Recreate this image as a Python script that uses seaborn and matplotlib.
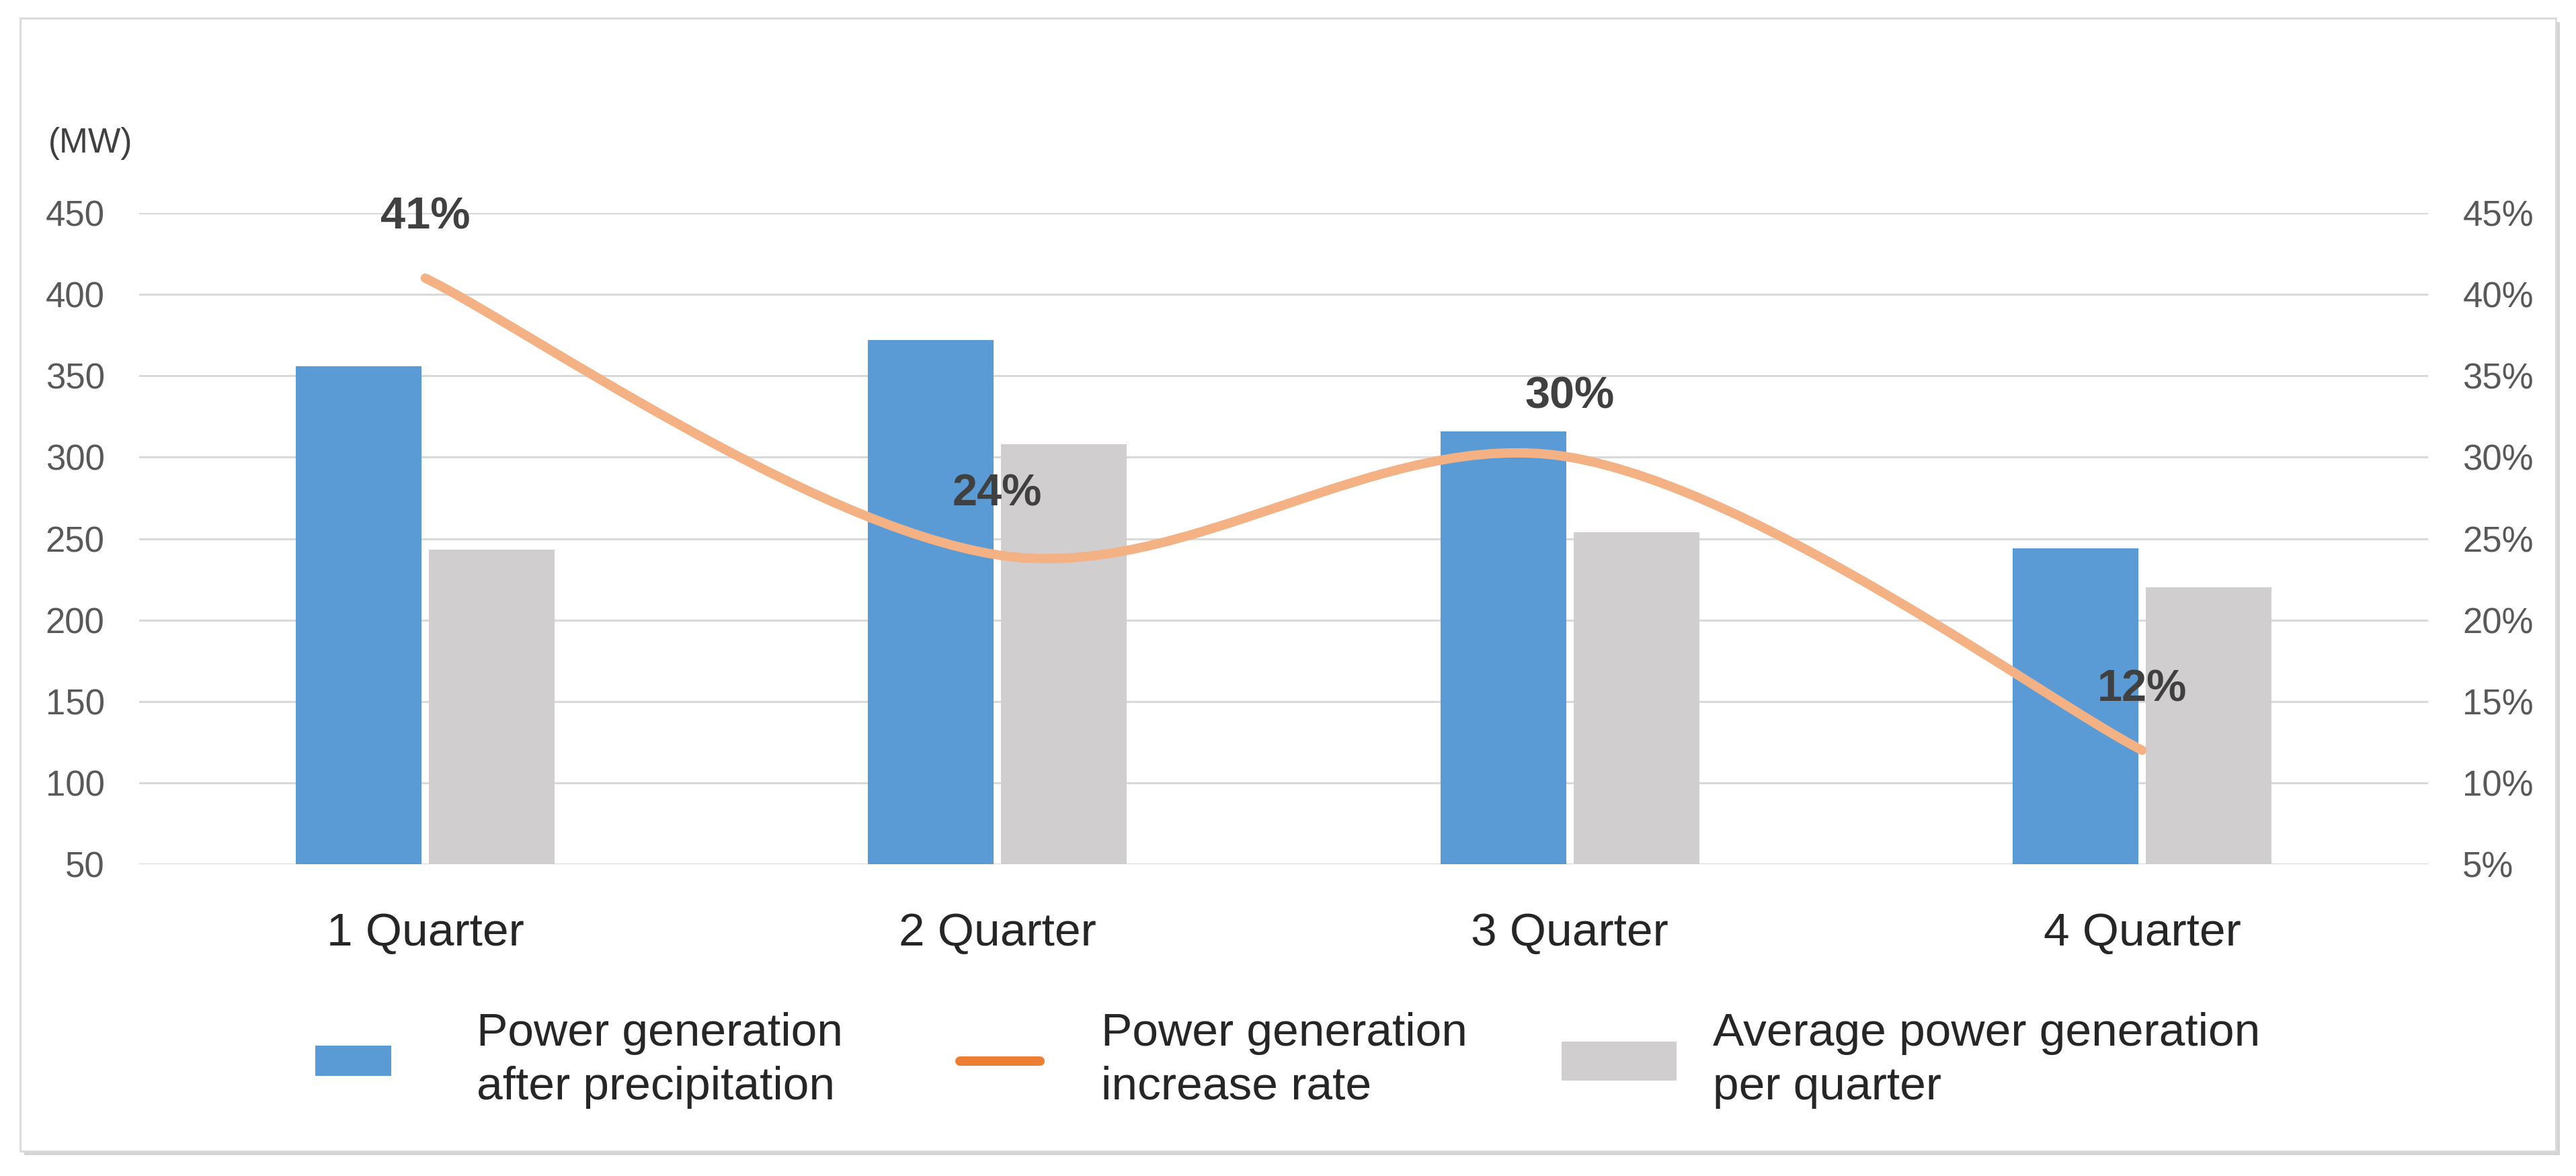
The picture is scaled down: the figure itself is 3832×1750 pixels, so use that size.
import numpy as np
import pandas as pd
import matplotlib
matplotlib.use("Agg")
import matplotlib.pyplot as plt
from matplotlib.path import Path
from matplotlib.patches import PathPatch, Rectangle, Patch
from matplotlib.lines import Line2D
import seaborn as sns

# --- data ---
quarters = ["1 Quarter", "2 Quarter", "3 Quarter", "4 Quarter"]
after_precip = [356, 372, 316, 244]          # MW, blue bars
avg_per_quarter = [243, 308, 254, 220]       # MW, gray bars
increase_rate = [41, 24, 30, 12]             # %, orange line
rate_labels = ["41%", "24%", "30%", "12%"]

mw_ticks = [50, 100, 150, 200, 250, 300, 350, 400, 450]
pct_ticks = [5, 10, 15, 20, 25, 30, 35, 40, 45]

name_blue = "Power generation\nafter precipitation"
name_line = "Power generation\nincrease rate"
name_gray = "Average power generation\nper quarter"

BLUE = "#5B9BD5"
GRAY = "#D0CECE"
LINE = "#F4B183"
LINE_LEG = "#ED7D31"

W, H = 3832, 1750

sns.set_theme(style="white")
plt.rcParams['font.family'] = ['Liberation Sans', 'DejaVu Sans']

fig = plt.figure(figsize=(W / 100, H / 100), dpi=100)
fig.subplots_adjust(left=207 / W, right=3612 / W, top=1 - 317 / H, bottom=1 - 1286 / H)
ax = fig.add_subplot(111)

df = pd.DataFrame({
    "quarter": quarters * 2,
    "series": [name_blue] * len(quarters) + [name_gray] * len(quarters),
    "value": after_precip + avg_per_quarter,
})

sns.barplot(data=df, x="quarter", y="value", hue="series",
            palette=[BLUE, GRAY], width=0.465, gap=0.055, saturation=1,
            errorbar=None, legend=False, linewidth=0, ax=ax)

ax.set_xlim(-0.5, 3.5)
ax.set_ylim(50, 450)
ax.set_yticks(mw_ticks)
ax.set_xlabel("")
ax.set_ylabel("")
ax.grid(axis="y", color="#D9D9D9", lw=2.2)
ax.grid(axis="x", visible=False)
ax.set_axisbelow(True)
for s in ax.spines.values():
    s.set_visible(False)
ax.tick_params(axis="y", length=0, pad=37, labelsize=38, labelcolor="#595959")
ax.tick_params(axis="x", length=0, pad=51, labelsize=50, labelcolor="#262626")

# secondary axis for the increase rate
ax2 = ax.twinx()
ax2.set_ylim(5, 45)
ax2.set_yticks(pct_ticks)
ax2.set_yticklabels([f"{t}%" for t in pct_ticks])
ax2.grid(False)
for s in ax2.spines.values():
    s.set_visible(False)
ax2.tick_params(axis="y", length=0, pad=37, labelsize=38, labelcolor="#595959")

# smoothed line (Excel style, Catmull-Rom -> cubic bezier)
pts = np.column_stack([np.arange(len(increase_rate), dtype=float),
                       np.array(increase_rate, dtype=float)])
ext = np.vstack([pts[0], pts, pts[-1]])
verts = [tuple(pts[0])]
codes = [Path.MOVETO]
for i in range(len(pts) - 1):
    p0, p1, p2, p3 = ext[i], ext[i + 1], ext[i + 2], ext[i + 3]
    c1 = p1 + (p2 - p0) / 6
    c2 = p2 - (p3 - p1) / 6
    verts += [tuple(c1), tuple(c2), tuple(p2)]
    codes += [Path.CURVE4] * 3
ax2.add_patch(PathPatch(Path(verts, codes), facecolor="none", edgecolor=LINE,
                        lw=10, capstyle="round", zorder=3))

for i, (v, lab) in enumerate(zip(increase_rate, rate_labels)):
    ax2.annotate(lab, (i, v), xytext=(0, 65), textcoords="offset points",
                 ha="center", va="center", fontsize=48, fontweight="bold",
                 color="#404040", zorder=4, annotation_clip=False)

# unit label
fig.text(135 / W, 1 - 214 / H, "(MW)", ha="center", va="center",
         fontsize=37, color="#404040")

# legend, one entry each so the handle sizes can differ like the original
plt.rcParams['text.antialiased'] = True
leg_kw = dict(loc="center left", frameon=False, fontsize=50, borderpad=0,
              borderaxespad=0, labelcolor="#262626")
legs = []
legs.append(fig.legend(handles=[Patch(facecolor=BLUE, edgecolor="none")], labels=[name_blue],
                       bbox_to_anchor=(469 / W, 1 - 1578 / H), handlelength=1.63,
                       handleheight=0.6, handletextpad=1.83, **leg_kw))
legs.append(fig.legend(handles=[Line2D([], [], color=LINE_LEG, lw=10)], labels=[name_line],
                       bbox_to_anchor=(1428 / W, 1 - 1578 / H), handlelength=1.72,
                       handletextpad=1.3, **leg_kw))
legs.append(fig.legend(handles=[Patch(facecolor=GRAY, edgecolor="none")], labels=[name_gray],
                       bbox_to_anchor=(2323 / W, 1 - 1578 / H), handlelength=2.46,
                       handleheight=0.91, handletextpad=0.78, **leg_kw))
for lg in legs:
    for t in lg.get_texts():
        t.set_linespacing(1.3)

# outer frame with a light shadow
fig.patches.append(Rectangle((36 / W, 1 - 1719 / H), (3808 - 36) / W, (1719 - 33) / H,
                             transform=fig.transFigure, facecolor="#D4D4D4",
                             edgecolor="none", zorder=-2))
fig.patches.append(Rectangle((30 / W, 1 - 1713 / H), (3802 - 30) / W, (1713 - 27) / H,
                             transform=fig.transFigure, facecolor="white",
                             edgecolor="#D9D9D9", lw=2, zorder=-1))

fig.savefig("out.png", dpi=100)
